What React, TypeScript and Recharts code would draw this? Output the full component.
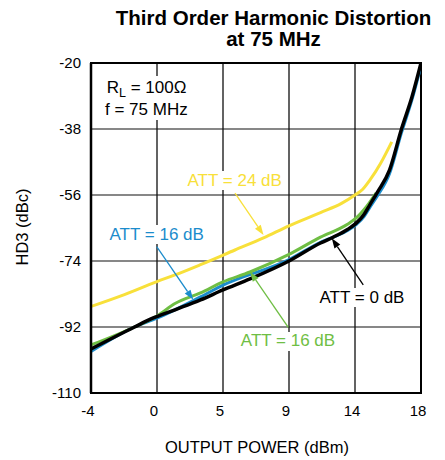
import { LineChart, Line, XAxis, YAxis, CartesianGrid, ReferenceLine, ReferenceArea } from 'recharts';

const FONT = '"Liberation Sans", Arial, Helvetica, sans-serif';

const X_TICKS = [-4, 0.4, 4.8, 9.2, 13.6, 18];
const X_TICK_LABELS = ['-4', '0', '5', '9', '14', '18'];
const Y_TICKS = [-110, -92, -74, -56, -38, -20];

// ATT = 0 dB (black)
const ATT0_X = [-4, -1.1, 0, 1.6, 3.3, 4.8, 6.6, 9.2, 11.3, 12.2, 13.1, 13.7, 14.2, 14.6, 15.1, 15.9, 16.7, 17.4, 18];
const ATT0_Y = [-98.0, -92.0, -89.8, -87.3, -84.6, -81.9, -78.9, -74.0, -69.1, -67.4, -65.4, -63.6, -61.3, -58.6, -55.2, -49.2, -38.0, -29.2, -20.0];

// ATT = 16 dB (green)
const ATT16G_X = [-4, -1.1, 0.4, 1.6, 3.3, 4.8, 6.6, 9.2, 11.3, 13.1, 13.7, 14.4, 15.0];
const ATT16G_Y = [-96.9, -92.0, -89.0, -85.6, -82.7, -79.7, -77.0, -72.2, -67.5, -64.0, -62.2, -59.0, -55.5];

// ATT = 16 dB (blue)
const ATT16B_X = [-4, -1.1, 0.4, 3.3, 4.8, 9.2, 11.3, 13.1, 13.7, 14.2, 14.6, 15.1, 15.9, 16.7, 17.4, 18];
const ATT16B_Y = [-98.7, -92.0, -89.6, -83.8, -80.6, -73.6, -68.9, -65.7, -64.0, -61.9, -59.3, -56.2, -50.2, -39.0, -30.0, -20.8];

// ATT = 24 dB (yellow)
const ATT24_X = [-4, -2, 0.4, 1.6, 3.3, 5.6, 7.5, 9.2, 11.3, 12.7, 13.6, 14.1, 14.6, 15.3, 16.05];
const ATT24_Y = [-86.4, -83.5, -79.6, -77.8, -75.0, -71.0, -67.7, -64.4, -60.8, -58.3, -56.0, -54.5, -51.9, -47.4, -41.5];

const BLACK = '#000000';
const GREEN = '#6fbe44';
const BLUE = '#1b8ccc';
const YELLOW = '#f8e03a';

const toPoints = (xs: number[], ys: number[]) => xs.map((x, i) => ({ x, y: ys[i] }));

const att0 = toPoints(ATT0_X, ATT0_Y);
const att16g = toPoints(ATT16G_X, ATT16G_Y);
const att16b = toPoints(ATT16B_X, ATT16B_Y);
const att24 = toPoints(ATT24_X, ATT24_Y);

// arrow annotations, [from, tip] in data units
const ARROWS = [
  { color: YELLOW, from: { x: 5.6, y: -55.5 }, to: { x: 7.5, y: -66.9 } },
  { color: BLUE, from: { x: 0.38, y: -70.1 }, to: { x: 2.82, y: -84.6 } },
  { color: BLACK, from: { x: 14.15, y: -80.5 }, to: { x: 12.05, y: -67.8 } },
  { color: GREEN, from: { x: 9.15, y: -92.1 }, to: { x: 6.6, y: -76.9 } },
];

const arrowShape = (color: string) => (props: any) => {
  const { x1, y1, x2, y2 } = props;
  const ang = Math.atan2(y2 - y1, x2 - x1);
  const len = 10;
  const half = 3.5;
  const bx = x2 - len * Math.cos(ang);
  const by = y2 - len * Math.sin(ang);
  const px = -Math.sin(ang) * half;
  const py = Math.cos(ang) * half;
  return (
    <g>
      <line x1={x1} y1={y1} x2={bx} y2={by} stroke={color} strokeWidth={1.3} />
      <polygon points={`${x2},${y2} ${bx + px},${by + py} ${bx - px},${by - py}`} fill={color} />
    </g>
  );
};

const W = 437;
const H = 452;

// overlay is laid out in page pixels (chart sits at 8,8 because of the body margin)
export default function App() {
  return (
    <div style={{ position: 'relative', width: W, height: H, fontFamily: FONT }}>
      <LineChart width={W} height={H} margin={{ top: 55, right: 24, bottom: 37, left: 23 }}>
        <CartesianGrid horizontal={false} stroke="#3c3c3c" strokeWidth={1.6} />
        <CartesianGrid vertical={false} stroke="#111" strokeWidth={1.1} />
        <XAxis
          type="number"
          dataKey="x"
          domain={[-4, 18]}
          ticks={X_TICKS}
          tickFormatter={(_v: number, i: number) => X_TICK_LABELS[i]}
          allowDataOverflow
          height={30}
          tickSize={0}
          tickMargin={12}
          tickLine={false}
          axisLine={{ stroke: '#000', strokeWidth: 2 }}
          tick={{ fill: '#000', fontSize: 15, fontFamily: FONT, dx: -3 }}
        />
        <YAxis
          type="number"
          domain={[-110, -20]}
          ticks={Y_TICKS}
          allowDataOverflow
          width={60}
          tickSize={0}
          tickMargin={10}
          tickLine={false}
          axisLine={{ stroke: '#000', strokeWidth: 2.5 }}
          tick={{ fill: '#000', fontSize: 15, fontFamily: FONT }}
        />
        <ReferenceArea x1={-4} x2={18} y1={-110} y2={-20} fill="none" stroke="#000" strokeWidth={2} fillOpacity={0} />
        <Line data={att24} dataKey="y" type="monotone" stroke={YELLOW} strokeWidth={3} dot={false} isAnimationActive={false} />
        <Line data={att16b} dataKey="y" type="monotone" stroke={BLUE} strokeWidth={3} dot={false} isAnimationActive={false} />
        <Line data={att16g} dataKey="y" type="monotone" stroke={GREEN} strokeWidth={3} dot={false} isAnimationActive={false} />
        <Line data={att0} dataKey="y" type="monotone" stroke={BLACK} strokeWidth={3.5} dot={false} isAnimationActive={false} />
        {ARROWS.map((a, i) => (
          <ReferenceLine key={i} segment={[a.from, a.to]} shape={arrowShape(a.color)} />
        ))}
      </LineChart>
      <svg
        width={445}
        height={460}
        style={{ position: 'absolute', left: -8, top: -8, pointerEvents: 'none', fontFamily: FONT }}
      >
        <text x={273.5} y={25} textAnchor="middle" fontSize={20.5} fontWeight="bold" fill="#000">
          Third Order Harmonic Distortion
        </text>
        <text x={273.5} y={46} textAnchor="middle" fontSize={20.5} fontWeight="bold" fill="#000">
          at 75 MHz
        </text>

        <rect x={103} y={76} width={92} height={44} fill="#fff" />
        <text x={106.7} y={92.7} fontSize={17} fill="#000">
          R<tspan fontSize={12.5} dy={4}>L</tspan>
          <tspan dy={-4}> = 100Ω</tspan>
        </text>
        <text x={105} y={115} fontSize={17} fill="#000">
          f = 75 MHz
        </text>

        <rect x={183} y={171} width={104} height={19} fill="#fff" />
        <text x={234.7} y={186} textAnchor="middle" fontSize={17} fill={YELLOW}>
          ATT = 24 dB
        </text>

        <rect x={105} y={225} width={104} height={19} fill="#fff" />
        <text x={156.7} y={240} textAnchor="middle" fontSize={17} fill={BLUE}>
          ATT = 16 dB
        </text>

        <rect x={314} y={288} width={96} height={19} fill="#fff" />
        <text x={362} y={302.5} textAnchor="middle" fontSize={17} fill="#000">
          ATT = 0 dB
        </text>

        <rect x={236} y={332} width={104} height={19} fill="#fff" />
        <text x={288} y={346} textAnchor="middle" fontSize={17} fill={GREEN}>
          ATT = 16 dB
        </text>

        <text x={257} y={453} textAnchor="middle" fontSize={16.5} fill="#000">
          OUTPUT POWER (dBm)
        </text>
        <text
          x={22}
          y={227}
          textAnchor="middle"
          dominantBaseline="central"
          fontSize={16.5}
          fill="#000"
          transform="rotate(-90, 22, 227)"
        >
          HD3 (dBc)
        </text>
      </svg>
    </div>
  );
}
